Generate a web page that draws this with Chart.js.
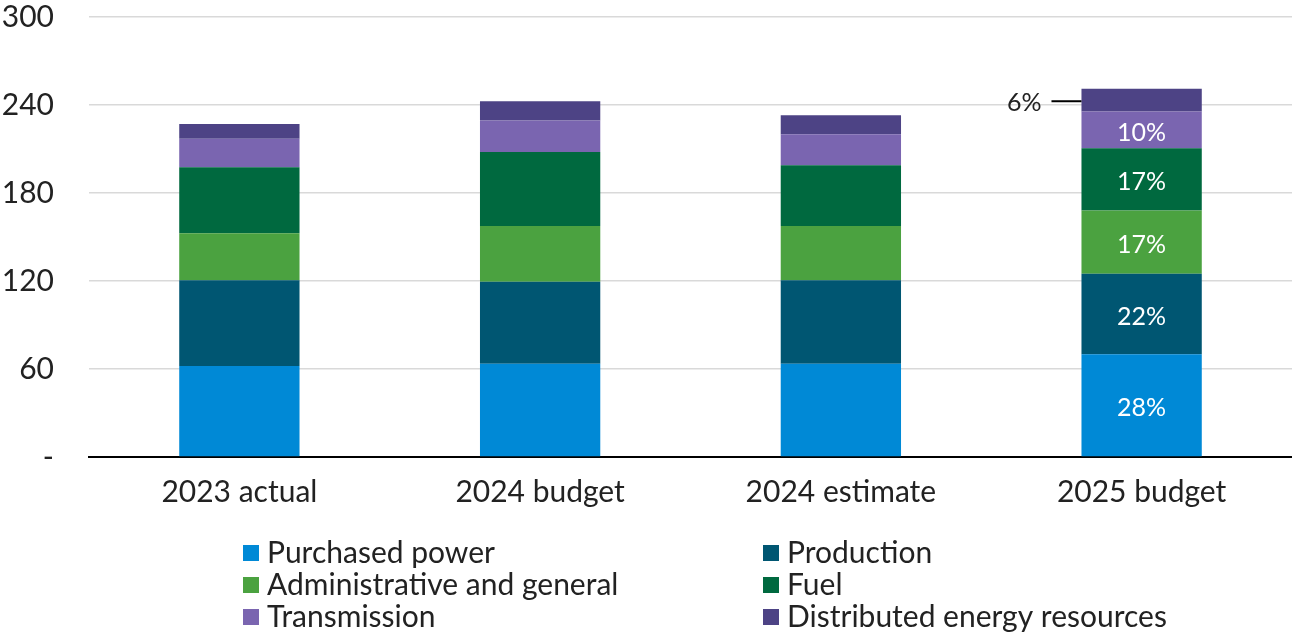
<!DOCTYPE html>
<html>
<head>
<meta charset="utf-8">
<script src="https://cdn.jsdelivr.net/npm/chart.js@4.4.1/dist/chart.umd.min.js"></script>
<style>
  html, body { margin: 0; padding: 0; background: #fff; }
  #wrap { width: 1292px; height: 633px; position: relative; }
</style>
</head>
<body>
<div id="wrap"><canvas id="costChart" width="1292" height="633"></canvas></div>
<script>
// ---------- Data ----------

const categories = ['2023 actual', '2024 budget', '2024 estimate', '2025 budget'];

const purchasedPower = [62, 63.5, 63.5, 70];
const production     = [58.5, 56, 57, 55];
const adminGeneral   = [32, 38, 37, 43];
const fuel           = [45, 50.5, 41.5, 42.5];
const transmission   = [19.5, 21.5, 21, 25];
const derResources   = [10, 13, 13, 15.5];

const seriesNames = [
    'Purchased power',
    'Production',
    'Administrative and general',
    'Fuel',
    'Transmission',
    'Distributed energy resources'
];
const seriesValues = [purchasedPower, production, adminGeneral, fuel, transmission, derResources];
const seriesColors = ['#0089D6', '#005672', '#4BA240', '#00693F', '#7A65B0', '#4D4385'];

const yTicks = [0, 60, 120, 180, 240, 300];

const FONT = 'Lato, "Open Sans", sans-serif';
const FONT_SIZE = 30;
const LABEL_SIZE = 25;

// ---------- Plugins ----------

// share labels on the last column
const shareLabels = {
    id: 'shareLabels',
    afterDatasetsDraw(chart) {
        const ctx = chart.ctx;
        const col = categories.length - 1;
        const total = seriesValues.reduce((s, arr) => s + arr[col], 0);

        ctx.save();
        ctx.font = `${LABEL_SIZE}px ${FONT}`;
        ctx.textBaseline = 'middle';

        chart.data.datasets.forEach((ds, i) => {
            const bar = chart.getDatasetMeta(i).data[col];
            const pct = Math.round(ds.data[col] / total * 100) + '%';
            const midY = (bar.y + bar.base) / 2;

            if (i === chart.data.datasets.length - 1) {
                // small top segment: label outside with a leader line
                const left = bar.x - bar.width / 2;
                const lineY = midY + 1;
                ctx.strokeStyle = '#000';
                ctx.lineWidth = 2;
                ctx.beginPath();
                ctx.moveTo(left - 30, lineY);
                ctx.lineTo(left, lineY);
                ctx.stroke();
                ctx.fillStyle = '#222';
                ctx.textAlign = 'right';
                ctx.fillText(pct, left - 40, lineY + 2);
            } else {
                ctx.fillStyle = '#fff';
                ctx.textAlign = 'center';
                ctx.fillText(pct, bar.x, midY + 3);
            }
        });
        ctx.restore();
    }
};

// two-column legend under the axis
const gridLegend = {
    id: 'gridLegend',
    afterDraw(chart) {
        const ctx = chart.ctx;
        const colX = [243, 763];
        const rowY = [553, 585, 617];
        const box = 16;

        ctx.save();
        ctx.font = `${FONT_SIZE}px ${FONT}`;
        ctx.textBaseline = 'middle';
        ctx.textAlign = 'left';

        chart.data.datasets.forEach((ds, i) => {
            const x = colX[i % 2];
            const y = rowY[Math.floor(i / 2)];
            ctx.fillStyle = ds.backgroundColor;
            ctx.fillRect(x, y - box / 2, box, box);
            ctx.fillStyle = '#222';
            ctx.fillText(ds.label, x + box + 8, y);
        });
        ctx.restore();
    }
};

// ---------- Chart ----------

const datasets = seriesNames.map((name, i) => ({
    label: name,
    data: seriesValues[i],
    backgroundColor: seriesColors[i],
    borderWidth: 0,
    barPercentage: 0.4,
    categoryPercentage: 1
}));

new Chart(document.getElementById('costChart'), {
    type: 'bar',
    data: { labels: categories, datasets },
    options: {
        responsive: false,
        animation: false,
        layout: { padding: { top: 17, right: 0, left: 0, bottom: 116 } },
        plugins: {
            legend: { display: false },
            tooltip: { enabled: false }
        },
        scales: {
            x: {
                stacked: true,
                grid: { display: false, drawTicks: false },
                border: { color: '#000', width: 2 },
                afterFit(scale) {
                    scale.height = 60;
                    scale.paddingLeft = 0;
                    scale.paddingRight = 0;
                },
                ticks: {
                    color: '#222',
                    padding: 17,
                    maxRotation: 0,
                    font: { family: FONT, size: FONT_SIZE }
                }
            },
            y: {
                stacked: true,
                min: yTicks[0],
                max: yTicks[yTicks.length - 1],
                afterBuildTicks(scale) {
                    scale.ticks = yTicks.map(v => ({ value: v }));
                },
                afterFit(scale) {
                    scale.width = 89;
                    scale.paddingTop = 0;
                    scale.paddingBottom = 0;
                },
                grid: { color: '#d9d9d9', lineWidth: 1.5, drawTicks: false },
                border: { display: false },
                ticks: {
                    color: '#222',
                    padding: 35,
                    font: { family: FONT, size: FONT_SIZE },
                    callback: v => (v === 0 ? '-' : v)
                }
            }
        }
    },
    plugins: [shareLabels, gridLegend]
});
</script>
</body>
</html>
